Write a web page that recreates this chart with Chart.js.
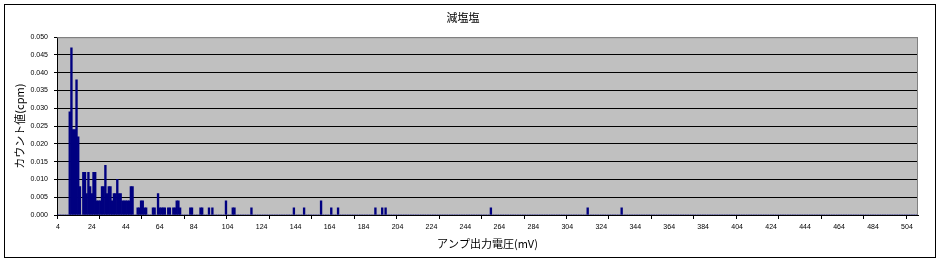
<!DOCTYPE html>
<html>
<head>
<meta charset="utf-8">
<script src="https://cdn.jsdelivr.net/npm/chart.js@4"></script>
<style>
  html, body { margin: 0; padding: 0; background: #ffffff; }
  canvas { display: block; }
</style>
</head>
<body>
<canvas id="c" width="942" height="262"></canvas>
<script>
// ---- data ----
const chartTitle = '減塩塩';
const xAxisTitle = 'アンプ出力電圧(mV)';
const yAxisTitle = 'カウント値(cpm)';
const firstVoltage = 4;     // first category (mV)
const lastVoltage = 510;    // last category (mV)
const xTickLabels = [4, 24, 44, 64, 84, 104, 124, 144, 164, 184, 204, 224, 244, 264, 284, 304, 324, 344, 364, 384, 404, 424, 444, 464, 484, 504];
const yTickValues = [0, 0.005, 0.010, 0.015, 0.020, 0.025, 0.030, 0.035, 0.040, 0.045, 0.050];
// channels with non-zero counts (mV) and their count rates (cpm)
const peakVoltages = [11, 12, 13, 14, 15, 16, 17, 19, 20, 21, 22, 23, 24, 25, 26, 27, 28, 29, 30, 31,
  32, 33, 34, 35, 36, 37, 38, 39, 40, 41, 42, 43, 44, 45, 46, 47, 48, 51, 52, 53,
  54, 55, 56, 60, 61, 63, 64, 65, 66, 67, 69, 70, 72, 73, 74, 75, 76, 82, 83, 88,
  89, 93, 95, 103, 107, 108, 118, 143, 149, 159, 165, 169, 191, 195, 197, 259, 316, 336];
const peakCounts = [0.029, 0.047, 0.024, 0.024, 0.038, 0.022, 0.008, 0.012, 0.012, 0.006, 0.012, 0.008, 0.006, 0.012, 0.012, 0.004, 0.004, 0.004, 0.008, 0.008,
  0.014, 0.006, 0.008, 0.008, 0.004, 0.006, 0.006, 0.010, 0.006, 0.006, 0.004, 0.004, 0.004, 0.004, 0.004, 0.008, 0.008, 0.002, 0.002, 0.004,
  0.004, 0.002, 0.002, 0.002, 0.002, 0.006, 0.002, 0.002, 0.002, 0.002, 0.002, 0.002, 0.002, 0.002, 0.004, 0.004, 0.002, 0.002, 0.002, 0.002,
  0.002, 0.002, 0.002, 0.004, 0.002, 0.002, 0.002, 0.002, 0.002, 0.004, 0.002, 0.002, 0.002, 0.002, 0.002, 0.002, 0.002, 0.002];

// ---- build table for the library ----
const categories = [];
for (let v = firstVoltage; v <= lastVoltage; v++) categories.push(v);
const countMap = new Map(peakVoltages.map((v, i) => [v, peakCounts[i]]));
const values = categories.map(v => countMap.has(v) ? countMap.get(v) : 0);
const tickLabelSet = new Set(xTickLabels);

const frame = {
  id: 'frame',
  beforeDraw(chart) {
    const { ctx, chartArea: a } = chart;
    ctx.save();
    ctx.fillStyle = '#c0c0c0';
    ctx.fillRect(a.left, a.top, a.right - a.left, a.bottom - a.top);
    ctx.restore();
  },
  afterDraw(chart) {
    const { ctx, chartArea: a } = chart;
    ctx.save();
    ctx.strokeStyle = '#808080';
    ctx.lineWidth = 1;
    ctx.beginPath();
    ctx.moveTo(a.left, a.top + 0.5);
    ctx.lineTo(a.right - 0.5, a.top + 0.5);
    ctx.lineTo(a.right - 0.5, a.bottom);
    ctx.stroke();
    ctx.strokeStyle = '#000000';
    ctx.strokeRect(4.5, 4.5, 931, 253);
    ctx.restore();
  }
};

new Chart(document.getElementById('c'), {
  type: 'bar',
  data: {
    labels: categories,
    datasets: [{
      data: values,
      backgroundColor: '#000080',
      borderWidth: 0,
      barPercentage: 1.0,
      categoryPercentage: 1.0
    }]
  },
  options: {
    responsive: false,
    animation: false,
    devicePixelRatio: 1,
    layout: { padding: { left: 8, right: 24, top: 8, bottom: 8 } },
    plugins: {
      legend: { display: false },
      tooltip: { enabled: false },
      title: {
        display: true,
        text: chartTitle,
        color: '#000',
        font: { family: '"Noto Sans CJK JP", sans-serif', size: 11, weight: 'normal' },
        padding: { top: 3, bottom: 13 }
      }
    },
    scales: {
      x: {
        type: 'category',
        offset: true,
        border: { display: true, color: '#000', width: 1 },
        grid: {
          display: true,
          offset: true,
          drawOnChartArea: false,
          drawTicks: true,
          tickLength: 4,
          tickColor: ctx => (ctx.index % 25 === 0 ? '#000' : 'rgba(0,0,0,0)')
        },
        ticks: {
          autoSkip: false,
          maxRotation: 0,
          minRotation: 0,
          padding: 4,
          color: '#000',
          font: { family: '"Liberation Sans", Arial, sans-serif', size: 7 },
          callback: function (val, i) {
            const v = categories[i];
            return tickLabelSet.has(v) ? String(v) : '';
          }
        },
        title: {
          display: true,
          text: xAxisTitle,
          color: '#000',
          font: { family: '"Noto Sans CJK JP", sans-serif', size: 11 },
          padding: { top: 2, bottom: 4 }
        },
        afterFit: s => { s.height = 39; }
      },
      y: {
        min: 0,
        max: 0.05,
        border: { display: true, color: '#000', width: 1 },
        grid: {
          color: ctx => (ctx.tick && ctx.tick.value >= 0.0499 ? '#808080' : '#000'),
          tickColor: '#000',
          tickLength: 3,
          lineWidth: 1
        },
        afterBuildTicks: s => { s.ticks = yTickValues.map(v => ({ value: v })); },
        ticks: {
          padding: 6,
          color: '#000',
          font: { family: '"Liberation Sans", Arial, sans-serif', size: 7 },
          callback: v => Number(v).toFixed(3)
        },
        title: {
          display: true,
          text: yAxisTitle,
          color: '#000',
          font: { family: '"Noto Sans CJK JP", sans-serif', size: 11 },
          padding: { top: 5, bottom: 0 }
        },
        afterFit: s => { s.width = 49; }
      }
    }
  },
  plugins: [frame]
});
</script>
</body>
</html>
